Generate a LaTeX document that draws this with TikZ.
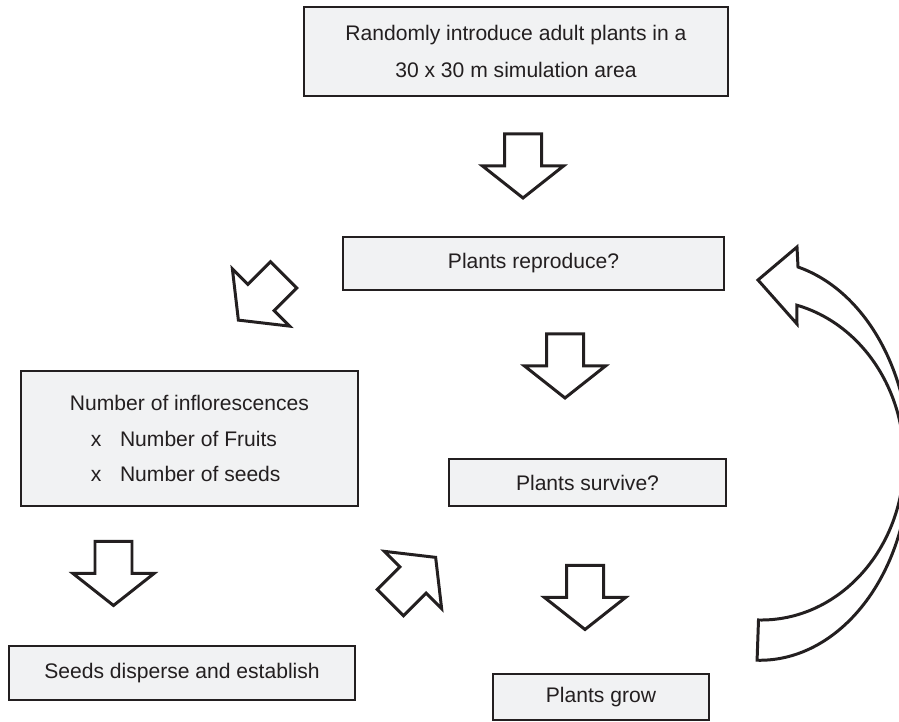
\documentclass[tikz,border=0pt]{standalone}
\usepackage{fontspec}
\setmainfont{Liberation Sans}
\usepackage{xcolor}
\definecolor{boxgray}{RGB}{241, 242, 243}
\definecolor{inkblack}{RGB}{35, 31, 32}
\usetikzlibrary{positioning}

\begin{document}
\begin{tikzpicture}[
        x=0.02cm, y=0.02cm,
        every node/.style={font=\fontsize{12}{20.2}\selectfont, text=inkblack},
        stage/.style={rectangle, draw=inkblack, fill=boxgray, line width=0.75pt, inner sep=0pt, align=center},
        hollow/.style={draw=inkblack, fill=white, line width=1.7pt, line join=miter},
        fatarrow/.pic={\draw[hollow] (-32,-18.5) -- (0,-18.5) -- (0,-40.5) -- (32,0) -- (0,40.5) -- (0,18.5) -- (-32,18.5) -- cycle;}
    ]
    \useasboundingbox (0,0) rectangle (899,722);

        % Stages
        \node[stage, minimum width=8.48cm, minimum height=1.78cm, font=\fontsize{12}{21.6}\selectfont] (start) at (516,670.5) {Randomly introduce adult plants in a\\30 x 30 m simulation area};
        \node[stage, minimum width=7.62cm, minimum height=1.06cm] (reproduce) at (533.5,458.5) {Plants reproduce?};
        \node[stage, minimum width=6.74cm, minimum height=2.7cm, align=left] (inflor) at (189.5,283.5) {Number of inflorescences\\\hspace*{0.42cm}x\hspace{0.37cm}Number of Fruits\\\hspace*{0.42cm}x\hspace{0.37cm}Number of seeds};
        \node[stage, minimum width=5.54cm, minimum height=0.94cm] (survive) at (587.5,239.5) {Plants survive?};
        \node[stage, minimum width=6.92cm, minimum height=1.08cm] (seeds) at (182,49) {Seeds disperse and establish};
        \node[stage, minimum width=4.32cm, minimum height=0.92cm] (grow) at (601,25) {Plants grow};

        % Flow arrows
        \pic[rotate=-90] at (523,556) {fatarrow};
        \pic[rotate=-90] at (565,356) {fatarrow};
        \pic[rotate=225] at (261,424.5) {fatarrow};
        \pic[rotate=-90] at (113.5,148.5) {fatarrow};
        \pic[rotate=45] at (413,142) {fatarrow};
        \pic[rotate=-90] at (585,124.5) {fatarrow};

        % Back to reproduction
        \begin{scope}
            \clip (0,0) rectangle (899,722);
            \draw[hollow] (758,442) -- (797,475) -- (798,455)
                arc[start angle=75.2, end angle=-91, x radius=3cm, y radius=4cm]
                -- (758.5,102)
                arc[start angle=-91, end angle=75.5, x radius=2.86cm, y radius=3.2cm]
                -- (797,398) -- cycle;
        \end{scope}

    \end{tikzpicture}
\end{document}
